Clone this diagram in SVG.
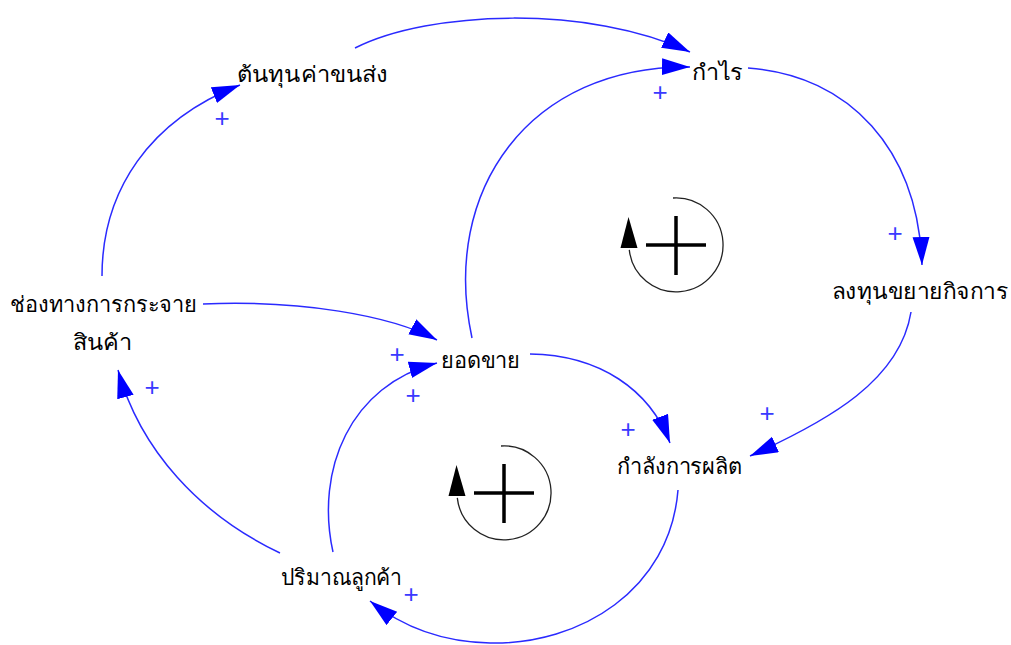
<svg xmlns="http://www.w3.org/2000/svg" xmlns:xlink="http://www.w3.org/1999/xlink" width="1011" height="645" viewBox="0 0 1011 645">
  <style>
    .lbl { font-family: "Noto Sans", "DejaVu Sans", "Liberation Sans", sans-serif; font-size: 22px; fill: #000; }
    .pol { font-family: "Liberation Sans", "DejaVu Sans", sans-serif; font-size: 26px; fill: #3a3aff; text-anchor: middle; }
    .con { fill: none; stroke: #2a2aff; stroke-width: 1.5; marker-end: url(#ah); }
    .loopc { fill: none; stroke: #222; stroke-width: 1.3; }
    .loopp { stroke: #000; stroke-width: 3.5; }
  </style>
  <defs>
    <marker id="ah" markerUnits="userSpaceOnUse" markerWidth="30" markerHeight="20" refX="28" refY="8.5" orient="auto">
      <path d="M0,0 L28,8.5 L0,17 Z" fill="#0000ff"/>
    </marker>
    <g id="loopR">
      <path class="loopc" d="M-3,-47 A47,47 0 1 1 -46.7,4.9"/>
      <polygon points="-55.5,3 -38.5,3 -47.5,-28" fill="#000"/>
      <line class="loopp" x1="-30" y1="0" x2="30" y2="0"/>
      <line class="loopp" x1="0" y1="-29" x2="0" y2="30"/>
    </g>
  </defs>
  <rect width="1011" height="645" fill="#fff"/>

  <g id="connectors">
    <path class="con" d="M102,276 C102,190 150,120 240,85"/>
    <path class="con" d="M355,48 C430,10 590,5 690,52"/>
    <path class="con" d="M472,338 C440,190 530,65 690,67"/>
    <path class="con" d="M748,68 C850,75 918,150 922,265"/>
    <path class="con" d="M911,312 C900,380 830,420 750,456"/>
    <path class="con" d="M530,354 C600,355 650,390 670,443"/>
    <path class="con" d="M203,304 C300,300 390,315 437,340"/>
    <path class="con" d="M333,552 C315,470 350,385 437,363"/>
    <path class="con" d="M678,490 C670,590 580,645 490,643 C440,642 400,625 370,601"/>
    <path class="con" d="M280,553 C200,515 140,450 118,370"/>
  </g>

  <g id="polarities">
    <text class="pol" x="222" y="127">+</text>
    <text class="pol" x="660" y="101">+</text>
    <text class="pol" x="895" y="242">+</text>
    <text class="pol" x="767" y="422">+</text>
    <text class="pol" x="628" y="438">+</text>
    <text class="pol" x="397" y="363">+</text>
    <text class="pol" x="413" y="404">+</text>
    <text class="pol" x="411" y="603">+</text>
    <text class="pol" x="152" y="396">+</text>
  </g>

  <g id="loop-top"><use xlink:href="#loopR" x="676" y="245"/></g>
  <g id="loop-bottom"><use xlink:href="#loopR" x="504" y="493"/></g>

  <g id="n-tonthun"><text class="lbl" x="237" y="82" textLength="151" lengthAdjust="spacingAndGlyphs">ต้นทุนค่าขนส่ง</text></g>
  <g id="n-kamrai"><text class="lbl" x="692" y="80" textLength="51" lengthAdjust="spacingAndGlyphs">กำไร</text></g>
  <g id="n-channel"><text class="lbl" x="10" y="312" textLength="187" lengthAdjust="spacingAndGlyphs">ช่องทางการกระจาย</text><text class="lbl" x="73" y="350" textLength="59" lengthAdjust="spacingAndGlyphs">สินค้า</text></g>
  <g id="n-sales"><text class="lbl" x="441" y="368" textLength="79" lengthAdjust="spacingAndGlyphs">ยอดขาย</text></g>
  <g id="n-invest"><text class="lbl" x="832" y="299" textLength="176" lengthAdjust="spacingAndGlyphs">ลงทุนขยายกิจการ</text></g>
  <g id="n-capacity"><text class="lbl" x="617" y="474" textLength="125" lengthAdjust="spacingAndGlyphs">กำลังการผลิต</text></g>
  <g id="n-customers"><text class="lbl" x="281" y="585" textLength="121" lengthAdjust="spacingAndGlyphs">ปริมาณลูกค้า</text></g>
</svg>
